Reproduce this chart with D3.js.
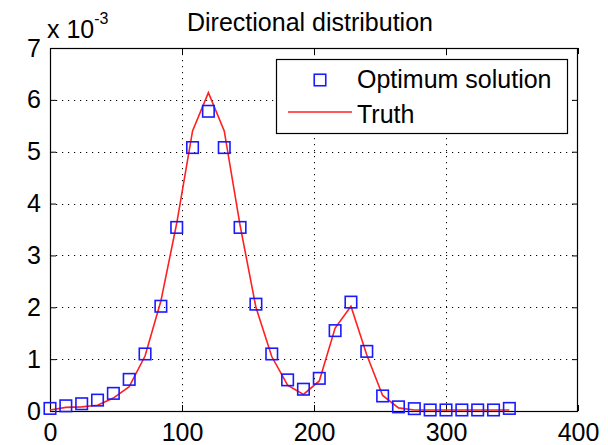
<!DOCTYPE html>
<html>
<head>
<meta charset="utf-8">
<script src="https://cdn.jsdelivr.net/npm/d3@7"></script>
<style>
  html, body { margin: 0; padding: 0; background: #fff; }
  svg text { font-family: "Liberation Sans", Arial, sans-serif; fill: #000; }
</style>
</head>
<body>
<svg id="chart" width="608" height="445"></svg>
<script>
// Data (values in units of 10^-3)
const title = "Directional distribution";
const angles = [0,12,24,36,48,60,72,84,96,108,120,132,144,156,168,180,192,204,216,228,240,252,264,276,288,300,312,324,336,348];
const optimum = [0.05,0.10,0.14,0.21,0.34,0.61,1.10,2.02,3.54,5.08,5.78,5.08,3.54,2.06,1.10,0.60,0.42,0.63,1.55,2.10,1.15,0.29,0.08,0.045,0.02,0.02,0.02,0.02,0.02,0.05];
const truth =   [0.02,0.07,0.08,0.11,0.25,0.47,1.06,2.12,3.62,5.40,6.14,5.40,3.58,2.00,1.05,0.50,0.32,0.58,1.60,2.02,1.08,0.30,0.06,0.02,0.02,0.02,0.02,0.02,0.02,0.02];
const xTicks = [0,100,200,300,400];
const yTicks = [0,1,2,3,4,5,6,7];
const seriesNames = ["Optimum solution", "Truth"];

const svg = d3.select("#chart");
const L = 50, R = 578, T = 48, B = 411;
const x = d3.scaleLinear().domain([0,400]).range([L,R]);
const y = d3.scaleLinear().domain([0,7]).range([B,T]);
const fs = 25;

// background
svg.append("rect").attr("x",0).attr("y",0).attr("width",608).attr("height",445).attr("fill","#fff");

// grid
const grid = svg.append("g");
grid.selectAll(".gx").data(xTicks.slice(1,-1)).enter().append("line")
  .attr("x1",d=>Math.round(x(d))+0.5).attr("x2",d=>Math.round(x(d))+0.5)
  .attr("y1",T).attr("y2",B)
  .attr("stroke","#000").attr("stroke-width",1).attr("stroke-dasharray","1.2,4.8");
grid.selectAll(".gy").data(yTicks.slice(1,-1)).enter().append("line")
  .attr("x1",L).attr("x2",R)
  .attr("y1",d=>Math.round(y(d))+0.5).attr("y2",d=>Math.round(y(d))+0.5)
  .attr("stroke","#000").attr("stroke-width",1).attr("stroke-dasharray","1.2,4.8");

// axes with inward ticks
const tk = 6;
const xAxisB = d3.axisBottom(x).tickValues(xTicks).tickSize(-tk).tickPadding(12).tickFormat(d3.format("d"));
const xAxisT = d3.axisTop(x).tickValues(xTicks).tickSize(-tk).tickFormat("");
const yAxisL = d3.axisLeft(y).tickValues(yTicks).tickSize(-tk).tickPadding(9).tickFormat(d3.format("d"));
const yAxisR = d3.axisRight(y).tickValues(yTicks).tickSize(-tk).tickFormat("");

function style(g){
  g.select(".domain").remove();
  g.selectAll(".tick line").attr("stroke","#000");
  g.selectAll(".tick text").attr("font-size",fs).attr("font-family","Liberation Sans, Arial, sans-serif").attr("fill","#000");
}
svg.append("g").attr("transform",`translate(0,${B})`).call(xAxisB).call(style);
svg.append("g").attr("transform",`translate(0,${T})`).call(xAxisT).call(style);
svg.append("g").attr("transform",`translate(${L},0)`).call(yAxisL).call(style);
svg.append("g").attr("transform",`translate(${R},0)`).call(yAxisR).call(style);

// box
svg.append("rect").attr("x",L+0.5).attr("y",T+0.5).attr("width",R-L-1).attr("height",B-T)
  .attr("fill","none").attr("stroke","#000").attr("stroke-width",1.2);

// truth line
const line = d3.line().x((d,i)=>x(angles[i])).y(d=>y(d));
svg.append("path").datum(truth).attr("d",line)
  .attr("fill","none").attr("stroke","#ff2020").attr("stroke-width",1.6);

// optimum markers
const ms = 11.5;
svg.append("g").selectAll("rect").data(optimum).enter().append("rect")
  .attr("x",(d,i)=>x(angles[i])-ms/2).attr("y",d=>y(d)-ms/2)
  .attr("width",ms).attr("height",ms)
  .attr("fill","none").attr("stroke","#1a1aff").attr("stroke-width",1.6);

// title
svg.append("text").attr("x",(L+R)/2 - 4).attr("y",31).attr("text-anchor","middle")
  .attr("font-size",fs).text(title);

// exponent label
const ex = svg.append("text").attr("x",47).attr("y",38).attr("font-size",fs);
ex.append("tspan").text("x 10");
ex.append("tspan").attr("dy",-14).attr("font-size",16).text("-3");

// legend
const lg = svg.append("g");
lg.append("rect").attr("x",276.5).attr("y",59.5).attr("width",291).attr("height",74)
  .attr("fill","#fff").attr("stroke","#000").attr("stroke-width",1.2);
lg.append("rect").attr("x",320-ms/2).attr("y",80-ms/2).attr("width",ms).attr("height",ms)
  .attr("fill","none").attr("stroke","#1a1aff").attr("stroke-width",1.6);
lg.append("text").attr("x",357).attr("y",88).attr("font-size",fs).text(seriesNames[0]);
lg.append("line").attr("x1",288).attr("x2",352).attr("y1",112).attr("y2",112)
  .attr("stroke","#ff2020").attr("stroke-width",1.6);
lg.append("text").attr("x",357).attr("y",123).attr("font-size",fs).text(seriesNames[1]);
</script>
</body>
</html>
